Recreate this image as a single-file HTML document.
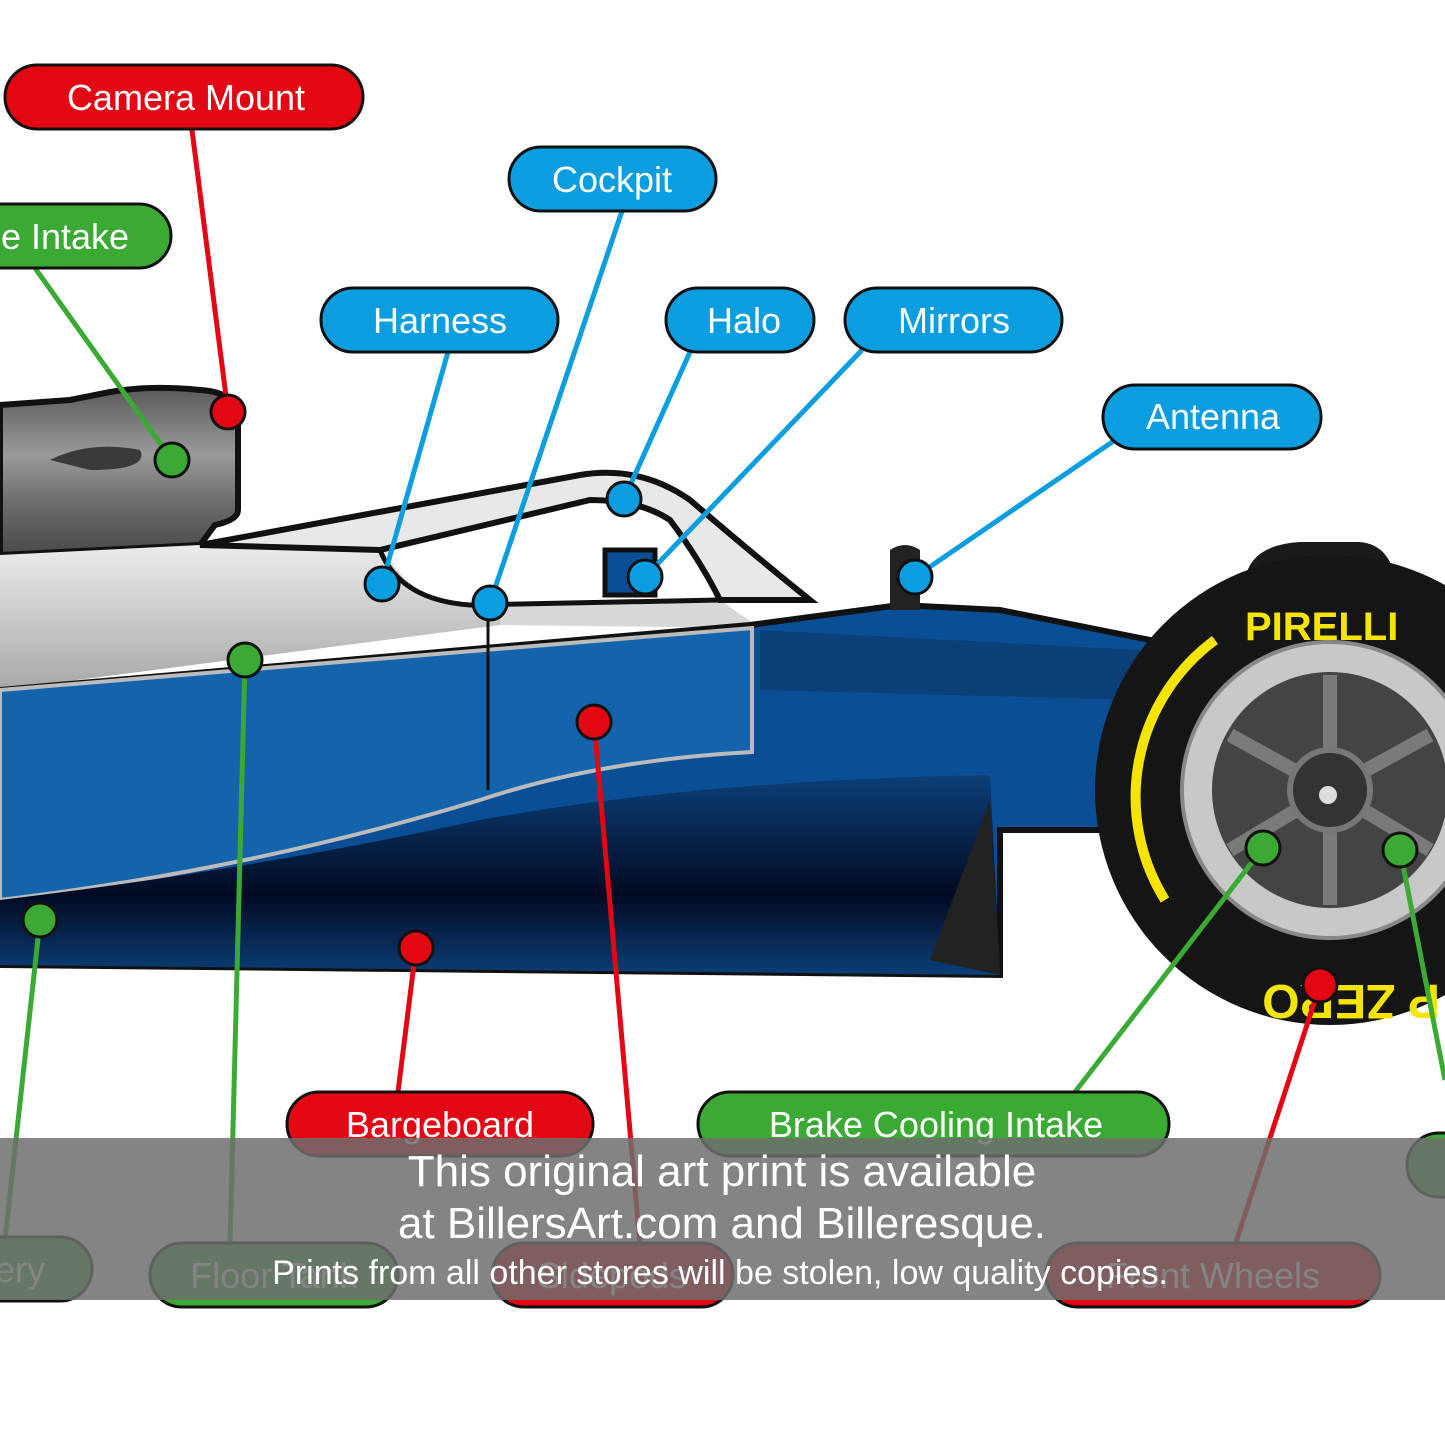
<!DOCTYPE html>
<html><head><meta charset="utf-8"><style>
html,body{margin:0;padding:0;background:#fff;}
svg{display:block;}
text{font-family:"Liberation Sans",sans-serif;}
</style></head><body>
<svg width="1445" height="1445" viewBox="0 0 1445 1445" xmlns="http://www.w3.org/2000/svg">
<defs>
<linearGradient id="gray" x1="0" y1="0" x2="0" y2="1">
<stop offset="0" stop-color="#5a5a5a"/><stop offset="0.4" stop-color="#9a9a9a"/><stop offset="0.7" stop-color="#6a6a6a"/><stop offset="1" stop-color="#4a4a4a"/></linearGradient>
<linearGradient id="silver" x1="0" y1="0" x2="0" y2="1">
<stop offset="0" stop-color="#f0f0f0"/><stop offset="1" stop-color="#a8a8a8"/></linearGradient>
<linearGradient id="dark" x1="0" y1="0" x2="0" y2="1">
<stop offset="0" stop-color="#0b3f78"/><stop offset="0.6" stop-color="#020a22"/><stop offset="1" stop-color="#0b3f78"/></linearGradient>
</defs>
<rect width="1445" height="1445" fill="#fff"/>
<path d="M0,405 L70,400 L110,392 Q150,385 200,390 Q238,392 238,420 L238,510 Q238,520 215,525 L200,545 L0,555 Z" fill="url(#gray)" stroke="#111" stroke-width="6"/>
<path d="M50,460 Q90,440 140,450 Q150,470 90,470 Z" fill="#3a3a3a"/>
<path d="M0,555 L200,545 L380,535 Q400,600 470,605 L500,605 L500,625 L0,690 Z" fill="url(#silver)"/>
<path d="M500,605 L720,600 L760,628 L500,625 Z" fill="#d8d8d8"/>
<path d="M200,545 L580,475 Q640,465 690,500 Q760,560 810,600 L720,600 Q700,560 670,520 Q640,500 590,500 L380,550 Z" fill="#e8e8e8" stroke="#111" stroke-width="6"/>
<path d="M380,550 Q400,600 470,605 L720,600" fill="none" stroke="#111" stroke-width="5"/>
<path d="M0,690 L750,625 L900,605 L1000,610 L1150,640 L1150,830 L1000,830 L1000,975 L0,965 Z" fill="#0a4f96" stroke="#111" stroke-width="6"/>
<path d="M760,630 L1140,650 L1140,700 L760,690 Z" fill="#0b3f78"/>
<path d="M0,690 L752,628 L752,752 Q600,760 480,800 Q250,870 0,900 Z" fill="#1463ad" stroke="#bbb" stroke-width="4"/>
<line x1="488" y1="600" x2="488" y2="790" stroke="#111" stroke-width="3"/>
<path d="M0,900 Q250,870 480,820 Q700,780 990,775 L1000,975 L0,965 Z" fill="url(#dark)"/>
<path d="M930,960 L990,800 L1000,975 Z" fill="#222"/>
<rect x="605" y="550" width="50" height="45" fill="#0a4f96" stroke="#111" stroke-width="5"/>
<path d="M890,550 Q905,540 920,550 L920,610 L890,610 Z" fill="#222"/>
<path d="M1245,580 Q1250,545 1300,542 L1360,542 Q1390,545 1395,580 Z" fill="#1a1a1a"/>
<circle cx="1330" cy="790" r="235" fill="#151515"/>
<path d="M1215,640 A195,195 0 0 0 1165,900" fill="none" stroke="#f5e400" stroke-width="10"/>
<text x="1245" y="640" font-size="40" font-weight="bold" fill="#f5e400">PIRELLI</text>
<text x="1180" y="935" font-size="48" font-weight="bold" fill="#f5e400" transform="rotate(180 1310 960)">P ZERO</text>
<circle cx="1330" cy="790" r="148" fill="#c8c8c8" stroke="#888" stroke-width="4"/>
<circle cx="1330" cy="790" r="118" fill="#444"/>
<g stroke="#7a7a7a" stroke-width="14">
<line x1="1330" y1="790" x2="1330" y2="675"/><line x1="1330" y1="790" x2="1430" y2="735"/><line x1="1330" y1="790" x2="1430" y2="850"/>
<line x1="1330" y1="790" x2="1330" y2="905"/><line x1="1330" y1="790" x2="1230" y2="850"/><line x1="1330" y1="790" x2="1230" y2="735"/>
</g>
<circle cx="1330" cy="790" r="40" fill="#333" stroke="#777" stroke-width="6"/>
<circle cx="1328" cy="795" r="9" fill="#ddd"/>
<g stroke-width="5" fill="none">
<line x1="192" y1="130" x2="228" y2="412" stroke="#e30613"/>
<line x1="35" y1="268" x2="172" y2="460" stroke="#3aaa35"/>
<line x1="622" y1="211" x2="490" y2="603" stroke="#0a9ee0"/>
<line x1="448" y1="352" x2="382" y2="584" stroke="#0a9ee0"/>
<line x1="690" y1="352" x2="624" y2="499" stroke="#0a9ee0"/>
<line x1="862" y1="350" x2="645" y2="577" stroke="#0a9ee0"/>
<line x1="1115" y1="440" x2="915" y2="577" stroke="#0a9ee0"/>
<line x1="398" y1="1092" x2="416" y2="948" stroke="#e30613"/>
<line x1="594" y1="722" x2="640" y2="1245" stroke="#e30613"/>
<line x1="245" y1="660" x2="230" y2="1245" stroke="#3aaa35"/>
<line x1="40" y1="920" x2="5" y2="1240" stroke="#3aaa35"/>
<line x1="1075" y1="1092" x2="1263" y2="848" stroke="#3aaa35"/>
<line x1="1320" y1="985" x2="1235" y2="1245" stroke="#e30613"/>
<line x1="1400" y1="850" x2="1445" y2="1080" stroke="#3aaa35"/>
</g>
<g stroke="#111" stroke-width="3">
<circle cx="228" cy="412" r="17" fill="#e30613"/>
<circle cx="172" cy="460" r="17" fill="#3aaa35"/>
<circle cx="490" cy="603" r="17" fill="#0a9ee0"/>
<circle cx="382" cy="584" r="17" fill="#0a9ee0"/>
<circle cx="624" cy="499" r="17" fill="#0a9ee0"/>
<circle cx="645" cy="577" r="17" fill="#0a9ee0"/>
<circle cx="915" cy="577" r="17" fill="#0a9ee0"/>
<circle cx="416" cy="948" r="17" fill="#e30613"/>
<circle cx="594" cy="722" r="17" fill="#e30613"/>
<circle cx="245" cy="660" r="17" fill="#3aaa35"/>
<circle cx="40" cy="920" r="17" fill="#3aaa35"/>
<circle cx="1263" cy="848" r="17" fill="#3aaa35"/>
<circle cx="1320" cy="985" r="17" fill="#e30613"/>
<circle cx="1400" cy="850" r="17" fill="#3aaa35"/>
</g>
<g stroke="#111" stroke-width="3" font-size="36" fill="#fff">
<rect x="5" y="65" width="358" height="64" rx="32" fill="#e30613"/>
<rect x="-40" y="204" width="211" height="64" rx="32" fill="#3aaa35"/>
<rect x="509" y="147" width="207" height="64" rx="32" fill="#0a9ee0"/>
<rect x="321" y="288" width="237" height="64" rx="32" fill="#0a9ee0"/>
<rect x="666" y="288" width="148" height="64" rx="32" fill="#0a9ee0"/>
<rect x="845" y="288" width="217" height="64" rx="32" fill="#0a9ee0"/>
<rect x="1103" y="385" width="218" height="64" rx="32" fill="#0a9ee0"/>
<rect x="287" y="1092" width="306" height="64" rx="32" fill="#e30613"/>
<rect x="698" y="1092" width="471" height="64" rx="32" fill="#3aaa35"/>
<rect x="-60" y="1237" width="152" height="64" rx="32" fill="#3aaa35"/>
<rect x="150" y="1243" width="248" height="64" rx="32" fill="#3aaa35"/>
<rect x="492" y="1243" width="241" height="64" rx="32" fill="#e30613"/>
<rect x="1046" y="1243" width="334" height="64" rx="32" fill="#e30613"/>
<rect x="1407" y="1133" width="100" height="64" rx="32" fill="#3aaa35"/>
</g>
<g font-size="36" fill="#fff" text-anchor="middle">
<text x="186" y="110">Camera Mount</text>
<text x="65" y="249">e Intake</text>
<text x="612" y="192">Cockpit</text>
<text x="440" y="333">Harness</text>
<text x="744" y="333">Halo</text>
<text x="954" y="333">Mirrors</text>
<text x="1213" y="429">Antenna</text>
<text x="440" y="1137">Bargeboard</text>
<text x="936" y="1137">Brake Cooling Intake</text>
<text x="20" y="1282">ery</text>
<text x="274" y="1288">Floor Tank</text>
<text x="612" y="1288">Sidepods</text>
<text x="1213" y="1288">Front Wheels</text>
</g>
<rect x="0" y="1138" width="1445" height="162" fill="#6e6e6e" fill-opacity="0.85"/>
<g fill="#fff" text-anchor="middle">
<text x="722" y="1186" font-size="44">This original art print is available</text>
<text x="722" y="1238" font-size="44">at BillersArt.com and Billeresque.</text>
<text x="720" y="1284" font-size="34">Prints from all other stores will be stolen, low quality copies.</text>
</g>
</svg>
</body></html>
